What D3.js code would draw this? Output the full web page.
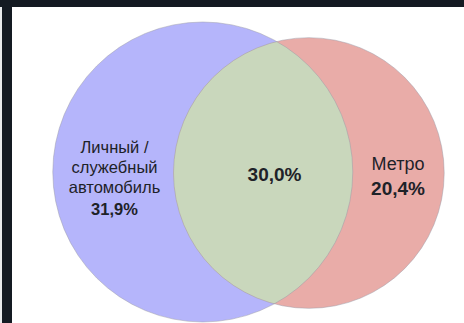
<!DOCTYPE html>
<html>
<head>
<meta charset="utf-8">
<script src="https://cdn.jsdelivr.net/npm/d3@7"></script>
<style>
  html, body { margin: 0; padding: 0; background: #fff; }
  svg { display: block; }
  text { font-family: "Liberation Sans", Arial, sans-serif; fill: #1e2228; }
</style>
</head>
<body>
<div id="venn"></div>
<script>
// Venn chart: car vs metro commuters
var setNames = ['Личный / служебный автомобиль', 'Метро'];
var setLabels = [['Личный /', 'служебный', 'автомобиль'], ['Метро']];
var onlyValues = [31.9, 20.4];
var overlapValue = 30.0;
var valueLabels = ['31,9%', '20,4%', '30,0%'];

var svgWidth = 464;
var svgHeight = 323;

var svg = d3.select('#venn')
    .append('svg')
    .attr('width', svgWidth)
    .attr('height', svgHeight);

// dark frame (top + left)
svg.append('rect')
    .attr('width', svgWidth).attr('height', svgHeight)
    .attr('fill', '#141a22');
svg.append('rect')
    .attr('x', 12).attr('y', 7)
    .attr('width', svgWidth - 12).attr('height', svgHeight - 7)
    .attr('fill', '#ffffff');
svg.append('rect')
    .attr('x', 0).attr('y', 7)
    .attr('width', 2).attr('height', svgHeight - 7)
    .attr('fill', '#e8eaec');

// totals per set -> radius (area proportional)
var totals = [onlyValues[0] + overlapValue, onlyValues[1] + overlapValue];
var rScale = d3.scaleSqrt()
    .domain([0, d3.max(totals)])
    .range([0, 150]);
var r1 = rScale(totals[0]);
var r2 = rScale(totals[1]);

function lensArea(d) {
    if (d >= r1 + r2) return 0;
    var a1 = Math.acos((d * d + r1 * r1 - r2 * r2) / (2 * d * r1));
    var a2 = Math.acos((d * d + r2 * r2 - r1 * r1) / (2 * d * r2));
    var k = Math.sqrt((-d + r1 + r2) * (d + r1 - r2) * (d - r1 + r2) * (d + r1 + r2));
    return r1 * r1 * a1 + r2 * r2 * a2 - 0.5 * k;
}
// find center distance so the lens has the overlap share of circle 1
var target = Math.PI * r1 * r1 * overlapValue / totals[0];
var lo = r1 - r2 + 0.01, hi = r1 + r2;
for (var i = 0; i < 60; i++) {
    var mid = (lo + hi) / 2;
    if (lensArea(mid) > target) lo = mid; else hi = mid;
}
var dist = (lo + hi) / 2;

// place the pair centered in the white area
var midX = 248.5, midY = 172;
var cx1 = midX - (r1 + dist + r2) / 2 + r1;
var cx2 = cx1 + dist;
var circles = [
    {cx: cx1, cy: midY, r: r1, fill: '#b5b5fb'},
    {cx: cx2, cy: midY + 1, r: r2, fill: '#e9aca8'}
];

var g = svg.append('g');

g.selectAll('circle.set')
    .data(circles)
    .enter()
    .append('circle')
    .attr('class', 'set')
    .attr('cx', d => d.cx)
    .attr('cy', d => d.cy)
    .attr('r', d => d.r)
    .attr('fill', d => d.fill);

// overlap region
svg.append('clipPath').attr('id', 'clipBlue')
    .append('circle')
    .attr('cx', circles[0].cx).attr('cy', circles[0].cy).attr('r', circles[0].r);
g.append('circle')
    .attr('cx', circles[1].cx).attr('cy', circles[1].cy).attr('r', circles[1].r)
    .attr('clip-path', 'url(#clipBlue)')
    .attr('fill', '#c9d7bc');

// outlines
g.selectAll('circle.outline')
    .data(circles)
    .enter()
    .append('circle')
    .attr('class', 'outline')
    .attr('cx', d => d.cx)
    .attr('cy', d => d.cy)
    .attr('r', d => d.r)
    .attr('fill', 'none')
    .attr('stroke', '#9a9aa6')
    .attr('stroke-opacity', 0.6)
    .attr('stroke-width', 0.8);

// labels
var leftX = 114.5;
var leftLabel = g.append('text')
    .attr('text-anchor', 'middle')
    .attr('font-size', '16.5px');
setLabels[0].forEach((line, i) => {
    leftLabel.append('tspan')
        .attr('x', leftX)
        .attr('y', 153 + i * 20)
        .text(line);
});
leftLabel.append('tspan')
    .attr('x', leftX)
    .attr('y', 153 + 3 * 20.5)
    .attr('font-weight', 'bold')
    .text(valueLabels[0]);

g.append('text')
    .attr('x', 274.5).attr('y', 181)
    .attr('text-anchor', 'middle')
    .attr('font-size', '19px')
    .attr('font-weight', 'bold')
    .text(valueLabels[2]);

var rightX = 398;
g.append('text')
    .attr('x', rightX).attr('y', 170)
    .attr('text-anchor', 'middle')
    .attr('font-size', '18px')
    .text(setLabels[1][0]);
g.append('text')
    .attr('x', rightX).attr('y', 195)
    .attr('text-anchor', 'middle')
    .attr('font-size', '19px')
    .attr('font-weight', 'bold')
    .text(valueLabels[1]);
</script>
</body>
</html>
